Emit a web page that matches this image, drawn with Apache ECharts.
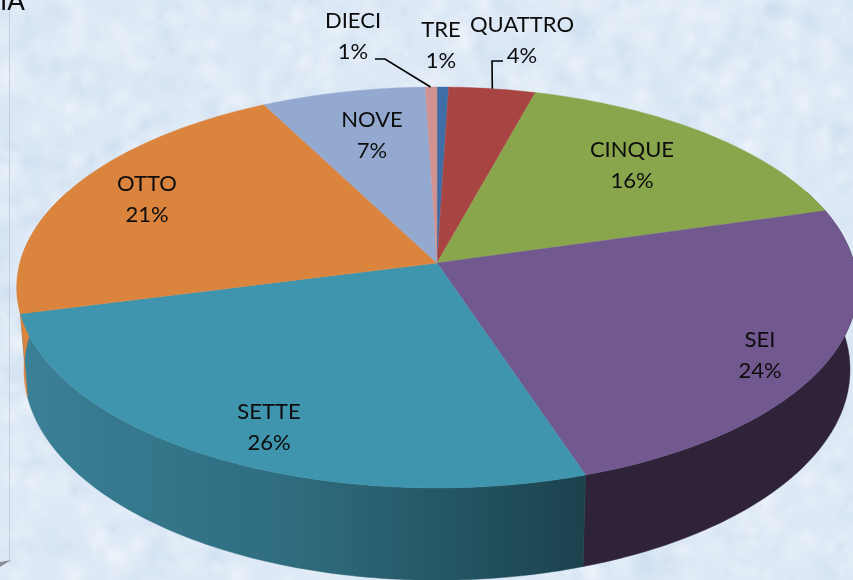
<!DOCTYPE html>
<html><head><meta charset="utf-8">
<style>html,body{margin:0;padding:0;background:#dfeaf6}#c{width:853px;height:580px}</style>
<script src="https://cdn.jsdelivr.net/npm/echarts@6/dist/echarts.min.js"></script>
</head><body><div id="c"></div>
<script>
// ---- data ----
const categories = ['TRE','QUATTRO','CINQUE','SEI','SETTE','OTTO','NOVE','DIECI'];
const shares     = [0.5, 3.75, 16.35, 24.3, 26.1, 21.4, 7.1, 0.5];
const percentLabels = ['1%','4%','16%','24%','26%','21%','7%','1%'];
// ---- style / layout ----
const topColors  = ['#3F6EA6','#A84543','#8AA64D','#71588F','#4095AE','#DB843D','#93A9CF','#D09392'];
const wallColors = ['#2a4a70','#702e2d','#5c6f33','#2E2339','#3A8097','#DB843D','#62718a','#8b6261'];
const labelCentres = [[441,45],[522,40],[632,165],[760,355],[269,427],[147,199],[372,135],[353,36]];
const leaderElbows = {1:[[503,61],[492,61]], 7:[[375,59],[385,59]]};
const leaderAnchor = {1:0.5, 7:0.45};
const P = {cx:437, cy:263, R:417, S:197.5, k:0.122, wallDrop:81, wallSx:0.983, wallSy:1.05};

function project(deg, bottom){
  const a = deg*Math.PI/180, u = Math.sin(a), v = Math.cos(a), w = 1+P.k*v;
  const X = P.R*u/w, Y = -P.S*v/w;
  return bottom ? [P.cx+X*P.wallSx, P.cy+P.wallDrop+Y*P.wallSy] : [P.cx+X, P.cy+Y];
}
const total = shares.reduce((a,b)=>a+b,0);
const starts = []; { let c=0; shares.forEach(s=>{starts.push(c/total*360); c+=s;}); }
function range(i){ return [starts[i], starts[i]+shares[i]/total*360]; }
function arc(a0,a1,bottom){
  const n=Math.max(2,Math.ceil(Math.abs(a1-a0))), pts=[];
  for(let j=0;j<=n;j++) pts.push(project(a0+(a1-a0)*j/n,bottom));
  return pts;
}
const seriesData = categories.map((c,i)=>({name:c,value:shares[i]}));

function wallItem(params){
  const i=params.dataIndex; let [a0,a1]=range(i);
  a0=Math.max(a0,68); a1=Math.min(a1,292);
  if(a1<=a0) return {type:'group',children:[]};
  const pts=arc(a0,a1,false).concat(arc(a0,a1,true).reverse());
  let fill=wallColors[i];
  if(categories[i]==='SETTE'){
    fill=new echarts.graphic.LinearGradient(20,0,590,0,[
      {offset:0,color:'#3A8097'},{offset:0.5,color:'#2E6B7D'},{offset:1,color:'#1B414C'}],true);
  }
  return {type:'polygon',shape:{points:pts},style:{fill:fill,stroke:fill,lineWidth:0.5}};
}
function topItem(params){
  const i=params.dataIndex, [a0,a1]=range(i);
  const pts=[[P.cx,P.cy]].concat(arc(a0,a1,false));
  return {type:'polygon',shape:{points:pts},style:{fill:topColors[i],stroke:topColors[i],lineWidth:0.4}};
}
function labelItem(params){
  const i=params.dataIndex, c=labelCentres[i], kids=[];
  kids.push({type:'text',style:{x:c[0],y:c[1],text:categories[i]+'\n'+percentLabels[i],
    fill:'#0d0d0d',font:'22px Lato, Carlito, sans-serif',align:'center',verticalAlign:'middle',lineHeight:31}});
  const elbows=leaderElbows[i];
  if(elbows){
    const [a0,a1]=range(i);
    const end=project(a0+(a1-a0)*leaderAnchor[i],false);
    kids.push({type:'polyline',shape:{points:elbows.concat([end])},style:{stroke:'#000',lineWidth:1.6,fill:null}});
  }
  return {type:'group',children:kids};
}

// mottled paper texture for the background (fixed sequence, decoration only)
function texture(){
  const cv=document.createElement('canvas'); cv.width=853; cv.height=580;
  const g=cv.getContext('2d'); g.fillStyle='#dde9f6'; g.fillRect(0,0,853,580);
  let s=12345; const r=()=>{s=(s*1664525+1013904223)>>>0; return s/4294967296;};
  for(let n=0;n<2600;n++){
    const x=r()*853,y=r()*580,rad=4+r()*14,light=r()>0.45;
    const col=light?'255,255,255':'186,206,232';
    const gr=g.createRadialGradient(x,y,0,x,y,rad);
    gr.addColorStop(0,'rgba('+col+','+(light?0.22:0.18)+')'); gr.addColorStop(1,'rgba('+col+',0)');
    g.fillStyle=gr; g.fillRect(x-rad,y-rad,rad*2,rad*2);
  }
  return cv;
}

const chart=echarts.init(document.getElementById('c'),null,{renderer:'canvas',width:853,height:580});
chart.setOption({
  animation:false,
  backgroundColor:{image:texture(),repeat:'no-repeat'},
  graphic:{elements:[
    {type:'rect',z:0,shape:{x:9,y:0,width:1,height:563},style:{fill:'#c6cfe0'}},
    {type:'polygon',z:0,shape:{points:[[0,562],[11,560],[0,567]]},style:{fill:'#8a8f96'}},
    {type:'text',z:10,style:{x:0,y:-11,text:'IA',fill:'#0d0d0d',font:'26px Lato, Carlito, sans-serif'}}
  ]},
  series:[
    {type:'custom',coordinateSystem:'none',name:'wall',silent:true,z:1,data:seriesData,renderItem:wallItem},
    {type:'custom',coordinateSystem:'none',name:'top',silent:true,z:2,data:seriesData,renderItem:topItem},
    {type:'custom',coordinateSystem:'none',name:'labels',silent:true,z:3,data:seriesData,renderItem:labelItem}
  ]
});
</script></body></html>
